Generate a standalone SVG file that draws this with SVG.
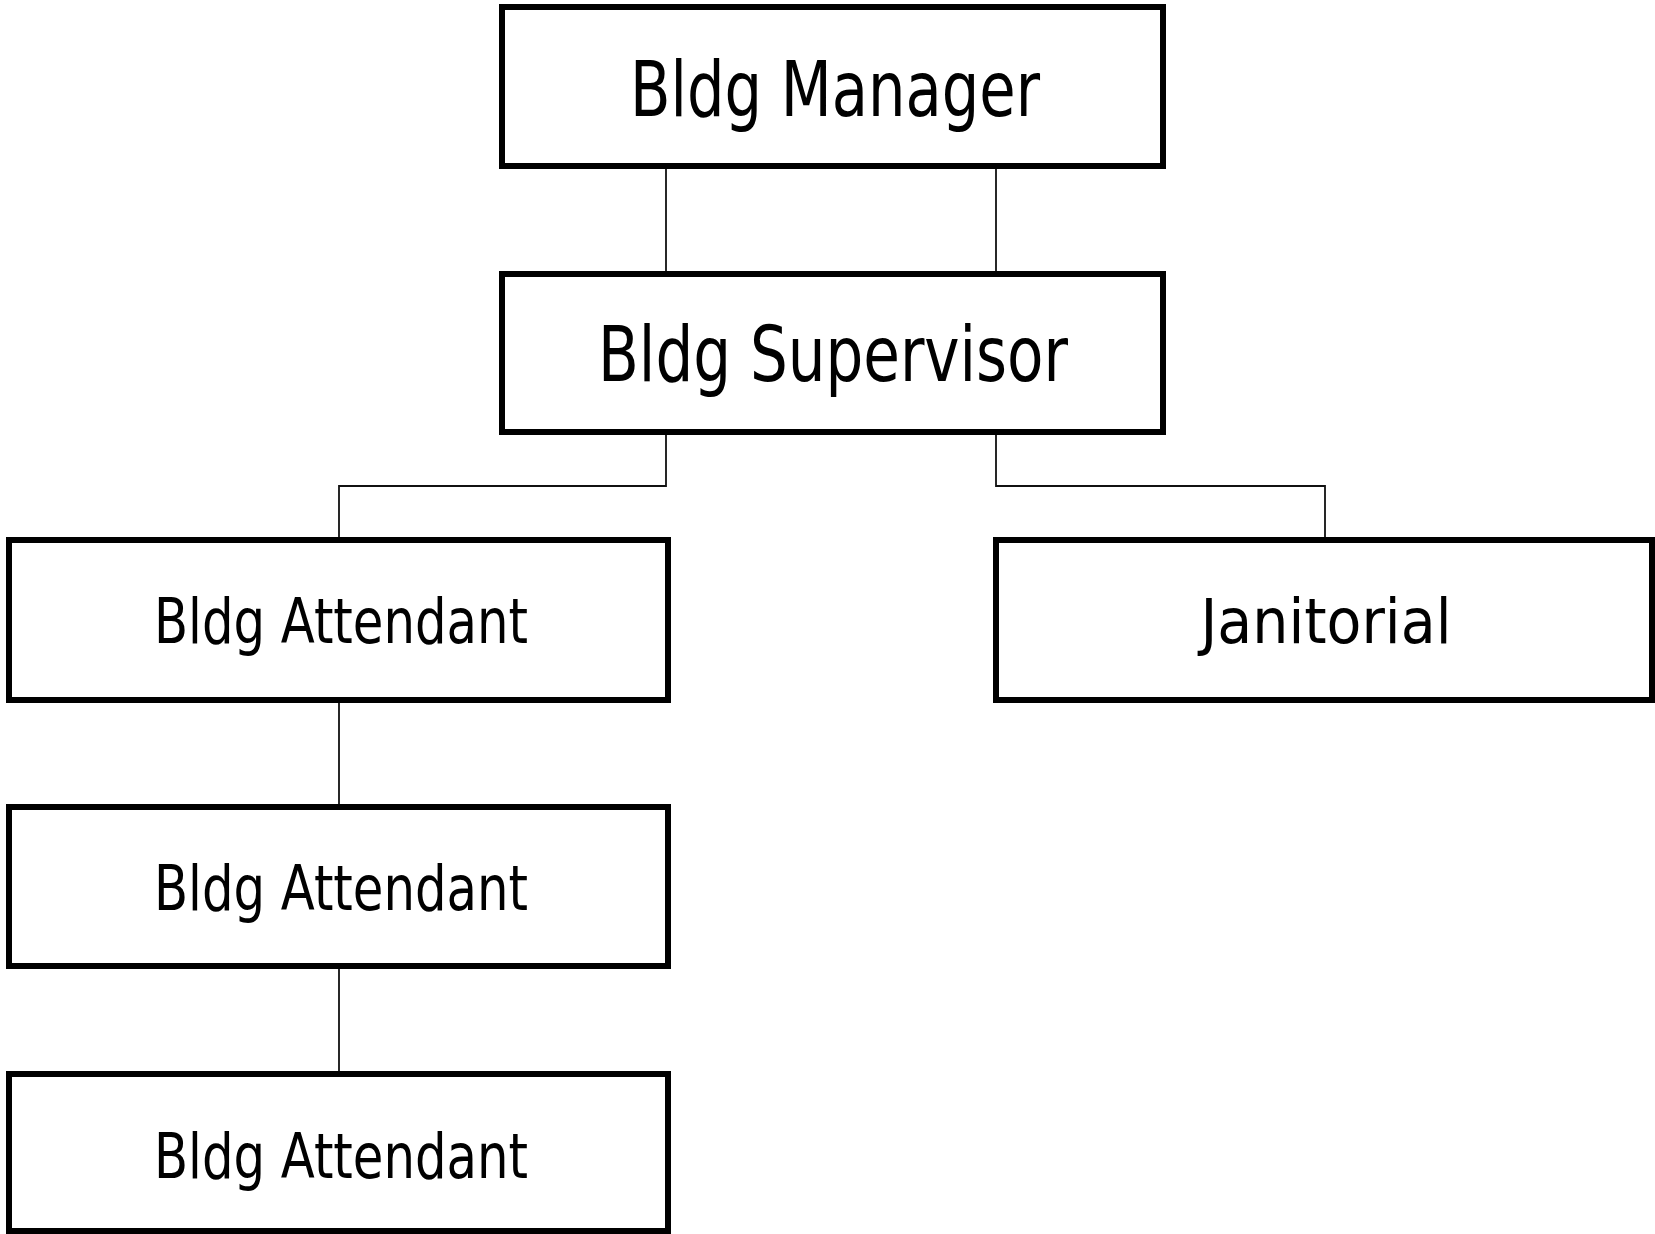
<svg xmlns="http://www.w3.org/2000/svg" width="1655" height="1234" viewBox="0 0 1655 1234">
<style>
.box{fill:#fff;stroke:#000;stroke-width:6}
.lbl{font-family:"Liberation Sans Narrow","DejaVu Sans Condensed","Liberation Sans",sans-serif;fill:#000;text-anchor:middle}
.big{font-size:76px}
.sm{font-size:63px}
.conn{fill:none;stroke:#111;stroke-width:1.8}
</style>
<rect width="1655" height="1234" fill="#fff"/>
<g id="connectors">
<line class="conn" x1="666" y1="167" x2="666" y2="272"/>
<line class="conn" x1="996" y1="167" x2="996" y2="272"/>
<polyline class="conn" points="666,433 666,486 339,486 339,540"/>
<polyline class="conn" points="996,433 996,486 1325,486 1325,540"/>
<line class="conn" x1="339" y1="700" x2="339" y2="807"/>
<line class="conn" x1="339" y1="966" x2="339" y2="1074"/>
</g>
<g id="manager">
<rect class="box" x="502" y="7" width="661" height="159"/>
<text class="lbl big" x="835" y="116" textLength="410" lengthAdjust="spacingAndGlyphs">Bldg Manager</text>
</g>
<g id="supervisor">
<rect class="box" x="502" y="274" width="661" height="158"/>
<text class="lbl big" x="833" y="381" textLength="470" lengthAdjust="spacingAndGlyphs">Bldg Supervisor</text>
</g>
<g id="attendant1">
<rect class="box" x="9" y="540" width="659" height="160"/>
<text class="lbl sm" x="341" y="643" textLength="374" lengthAdjust="spacingAndGlyphs">Bldg Attendant</text>
</g>
<g id="janitorial">
<rect class="box" x="996" y="540" width="656" height="160"/>
<text class="lbl sm" x="1326" y="643" textLength="251" lengthAdjust="spacingAndGlyphs">Janitorial</text>
</g>
<g id="attendant2">
<rect class="box" x="9" y="807" width="659" height="159"/>
<text class="lbl sm" x="341" y="910" textLength="374" lengthAdjust="spacingAndGlyphs">Bldg Attendant</text>
</g>
<g id="attendant3">
<rect class="box" x="9" y="1074" width="659" height="157"/>
<text class="lbl sm" x="341" y="1178" textLength="374" lengthAdjust="spacingAndGlyphs">Bldg Attendant</text>
</g>
</svg>
